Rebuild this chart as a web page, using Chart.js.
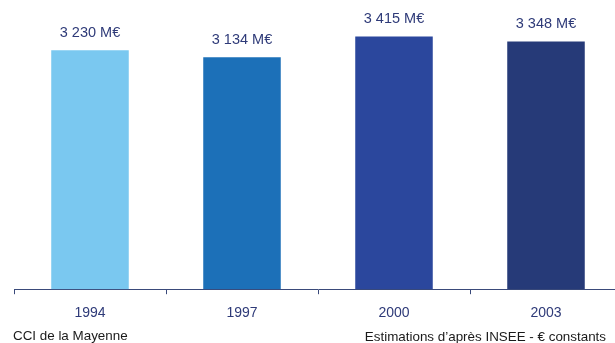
<!DOCTYPE html>
<html>
<head>
<meta charset="utf-8">
<script src="https://cdn.jsdelivr.net/npm/chart.js@4/dist/chart.umd.min.js"></script>
<style>
  body { margin: 0; overflow: hidden; background: #fff; font-family: "Liberation Sans", Arial, sans-serif; }
  #wrap { position: relative; width: 615px; height: 343px; overflow: hidden; }
  #myChart { position: absolute; left: 0; top: 0; }
  .note { position: absolute; font-size: 13.4px; color: #1a1a1a; white-space: nowrap; }
</style>
</head>
<body>
<div id="wrap">
  <canvas id="myChart" width="630" height="343"></canvas>
  <div class="note" style="left:13px; top:328px;">CCI de la Mayenne</div>
  <div class="note" style="right:9px; top:329px;">Estimations d’après INSEE - € constants</div>
</div>
<script>
const annees = ['1994', '1997', '2000', '2003'];
const valeurs = [3230, 3134, 3415, 3348];
const etiquettes = ['3 230 M€', '3 134 M€', '3 415 M€', '3 348 M€'];
const couleurs = ['#7ac8f0', '#1c70b8', '#2b479d', '#263a78'];

// etiquettes au dessus des barres
const labelsPlugin = {
  id: 'valeursBarres',
  afterDatasetsDraw(chart) {
    const ctx = chart.ctx;
    const meta = chart.getDatasetMeta(0);
    ctx.save();
    ctx.font = '14.5px "Liberation Sans", Arial, sans-serif';
    ctx.fillStyle = '#2e3a78';
    ctx.textAlign = 'center';
    ctx.textBaseline = 'middle';
    meta.data.forEach((bar, i) => {
      ctx.fillText(etiquettes[i], bar.x, bar.y - 17);
    });
    ctx.restore();
  }
};

const canvas = document.getElementById('myChart');
const ctx = canvas.getContext('2d');

const chart = new Chart(ctx, {
  type: 'bar',
  data: {
    labels: annees,
    datasets: [{
      data: valeurs,
      backgroundColor: couleurs,
      borderWidth: 0,
      barPercentage: 0.51,
      categoryPercentage: 1
    }]
  },
  options: {
    responsive: false,
    animation: false,
    layout: { padding: { left: 14, right: 8, top: 8, bottom: 10 } },
    plugins: { legend: { display: false }, tooltip: { enabled: false } },
    scales: {
      y: { display: false, min: 0, max: 3800 },
      x: {
        offset: true,
        grid: {
          offset: true,
          drawOnChartArea: false,
          drawTicks: true,
          tickLength: 5,
          color: '#3a4a7a',
          lineWidth: 1
        },
        border: { display: true, color: '#3a4a7a', width: 1 },
        ticks: {
          padding: 11,
          color: '#2e3a78',
          font: { family: '"Liberation Sans", Arial, sans-serif', size: 14 }
        }
      }
    }
  },
  plugins: [labelsPlugin]
});
</script>
</body>
</html>
